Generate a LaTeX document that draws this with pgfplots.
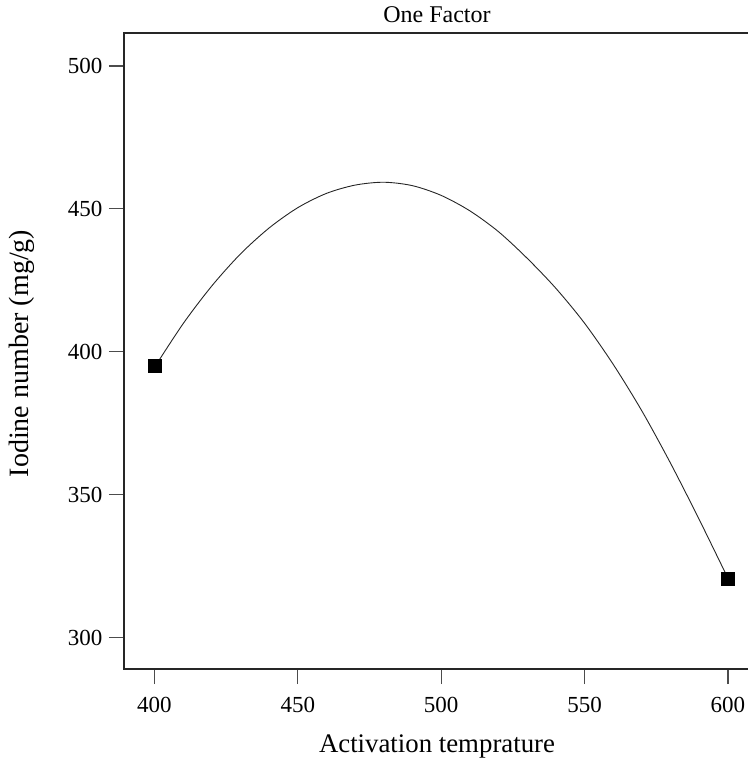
\documentclass[border=0pt]{standalone}
\usepackage{pgfplots}
\pgfplotsset{compat=1.18}
\usepackage{fontspec}
\setmainfont{Liberation Serif}

\begin{document}
\begin{tikzpicture}
\useasboundingbox (-124pt,-94pt) rectangle (623pt,669pt);
\begin{axis}[
  scale only axis,
  width=626pt, height=636pt,
  at={(0pt,0pt)}, anchor=south west,
  xmin=389.4, xmax=607.7,
  ymin=289.05, ymax=511.5,
  axis line style={black!85, line width=1.2pt},
  major tick style={black!70, line width=1.3pt},
  major tick length=15pt,
  tick align=outside,
  xtick pos=bottom, ytick pos=left,
  xtick={400,450,500,550,600},
  ytick={300,350,400,450,500},
  /pgf/number format/assume math mode=true,
  /pgf/number format/1000 sep={},
  tick label style={font=\fontsize{23}{23}\selectfont},
  xticklabel style={yshift=-10pt},
  yticklabel style={xshift=-3pt},
  xlabel={Activation temprature},
  ylabel={Iodine number (mg/g)},
  x label style={font=\fontsize{26.8}{26.8}\selectfont, at={(axis description cs:0.5,-0.1226)}, anchor=center},
  y label style={font=\fontsize{28}{28}\selectfont, at={(axis description cs:-0.163,0.496)}, anchor=center, rotate=0},
  title={One Factor},
  title style={font=\fontsize{24}{24}\selectfont, at={(axis description cs:0.5,1.02)}, anchor=center},
]
% fitted response curve
\addplot[black!85, line width=0.9pt, smooth] coordinates {
  (400,394.5) (410,409.8) (420,423.0) (430,434.2) (440,443.3)
  (450,450.4) (460,455.4) (470,458.3) (480,459.3) (490,458.1)
  (500,454.7) (510,449.3) (520,442.0) (530,432.7) (540,422.2)
  (550,410.0) (560,395.6) (570,379.3) (580,361.0) (590,341.3)
  (600,320.8)
};
% design points
\addplot[only marks, mark=square*, mark size=6.5pt, black] coordinates {
  (400,395.1) (600,320.8)
};
\end{axis}
\end{tikzpicture}
\end{document}
